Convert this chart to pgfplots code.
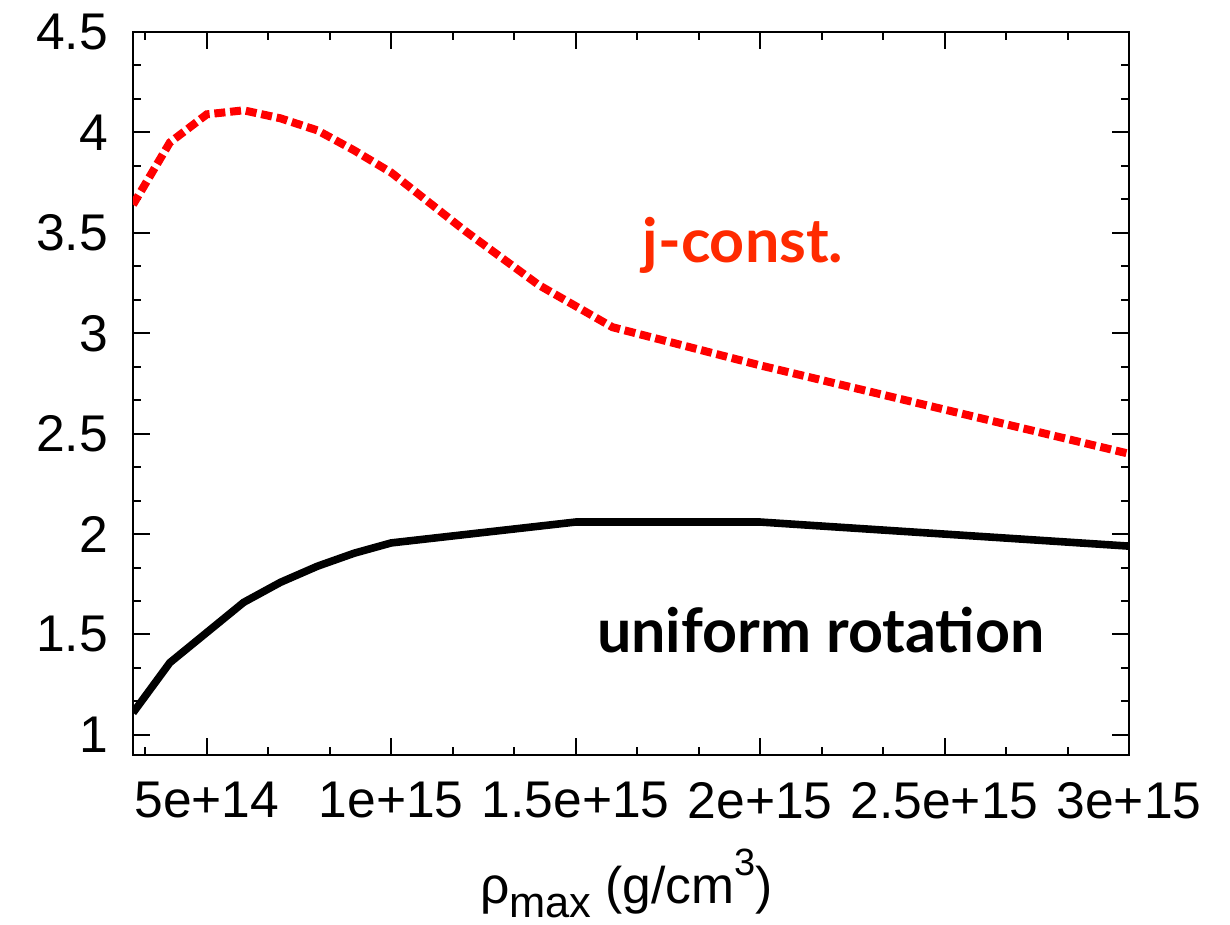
\documentclass[border=0pt]{standalone}
\usepackage{fontspec}
\setmainfont{Liberation Sans}
\newfontfamily\lato{Lato}
\usepackage{pgfplots}
\pgfplotsset{compat=1.18}
\definecolor{jred}{RGB}{255,42,0}
\begin{document}
\begin{tikzpicture}
\begin{axis}[
  scale only axis=true,
  width=498pt, height=361.5pt,
  xmin=3e14, xmax=3e15, ymin=0.9, ymax=4.5,
  axis line style={line width=1.35pt},
  every tick/.style={line width=1pt, black},
  major tick length=8.5pt, minor tick length=4pt,
  tick align=inside,
  xtick={5e14,1e15,1.5e15,2e15,2.5e15,3e15},
  xticklabels={5e+14,1e+15,1.5e+15,2e+15,2.5e+15,3e+15},
  minor xtick={3.33333e14,6.66667e14,8.33333e14,1.16667e15,1.33333e15,1.66667e15,1.83333e15,2.16667e15,2.33333e15,2.66667e15,2.83333e15},
  ytick={1,1.5,2,2.5,3,3.5,4,4.5},
  yticklabels={1,1.5,2,2.5,3,3.5,4,4.5},
  minor ytick={1.16667,1.33333,1.66667,1.83333,2.16667,2.33333,2.66667,2.83333,3.16667,3.33333,3.66667,3.83333,4.16667,4.33333},
  tick label style={font=\fontsize{25.8}{30}\selectfont},
  xticklabel style={yshift=-10pt},
  yticklabel style={xshift=-9pt},
  scaled x ticks=false,
]
\addplot[red, line width=4pt, dash pattern=on 5.5pt off 2.4pt] coordinates {
(3e14,3.64) (4e14,3.95) (5e14,4.09) (6e14,4.11) (7e14,4.07) (8e14,4.01) (9e14,3.91) (1e15,3.80) (1.2e15,3.51) (1.4e15,3.24) (1.6e15,3.03) (2e15,2.84) (2.5e15,2.62) (3e15,2.40)
};
\addplot[black, line width=3.8pt] coordinates {
(3e14,1.11) (4e14,1.36) (5e14,1.51) (6e14,1.66) (7e14,1.76) (8e14,1.84) (9e14,1.905) (1e15,1.956) (1.5e15,2.06) (2e15,2.06) (2.5e15,2.00) (3e15,1.94)
};
\node[anchor=base west, inner sep=0pt, text=jred, font=\lato\bfseries\fontsize{30.5}{36}\selectfont] at (axis cs:1.681e15,3.35) {j-const.};
\node[anchor=base west, inner sep=0pt, text=black, font=\lato\bfseries\fontsize{30.5}{36}\selectfont] at (axis cs:1.557e15,1.408) {uniform rotation};
\end{axis}
\node[anchor=base, inner sep=0pt, font=\fontsize{25.8}{30}\selectfont] at (246.75pt,-74pt) {ρ\raisebox{-7pt}{\fontsize{21.7}{24}\selectfont max} (g/cm\raisebox{14pt}{\fontsize{19}{22}\selectfont 3})};
\pgfresetboundingbox
\path (-66.5pt,-85pt) rectangle (548.5pt,377.5pt);
\end{tikzpicture}
\end{document}
